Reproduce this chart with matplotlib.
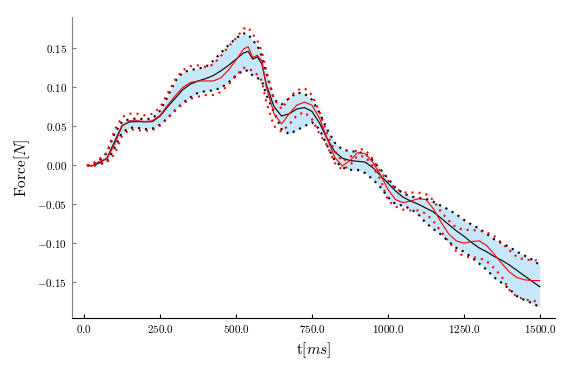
import numpy as np
import matplotlib
matplotlib.use("Agg")
import matplotlib.pyplot as plt

plt.rcParams['mathtext.fontset'] = 'cm'
plt.rcParams['font.family'] = 'DejaVu Serif'

# time axis [ms]
t = [10, 25, 50, 75, 100, 125, 150, 175, 200, 225, 250, 275, 300, 325, 350, 375,
     400, 425, 450, 475, 500, 525, 540, 555, 570, 585, 600, 625, 650, 675, 700,
     725, 750, 775, 800, 825, 850, 875, 900, 925, 950, 975, 1000, 1025, 1050,
     1075, 1100, 1125, 1150, 1175, 1200, 1225, 1250, 1275, 1300, 1325, 1350,
     1375, 1400, 1425, 1450, 1475, 1500]

# black: mean with upper / lower bound
black_mid = [0.000, -0.001, 0.003, 0.009, 0.030, 0.051, 0.0555, 0.056, 0.0555, 0.056,
             0.063, 0.075, 0.086, 0.097, 0.104, 0.108, 0.111, 0.115, 0.121, 0.128,
             0.136, 0.144, 0.146, 0.136, 0.139, 0.130, 0.103, 0.075, 0.063, 0.066,
             0.072, 0.074, 0.069, 0.054, 0.034, 0.017, 0.009, 0.006, 0.005, 0.004,
             -0.003, -0.013, -0.023, -0.033, -0.041, -0.046, -0.050, -0.055, -0.060,
             -0.068, -0.076, -0.084, -0.091, -0.099, -0.106, -0.111, -0.117, -0.122,
             -0.128, -0.135, -0.142, -0.149, -0.156]
black_up = [0.000, 0.000, 0.006, 0.016, 0.041, 0.056, 0.059, 0.060, 0.059, 0.060,
            0.070, 0.088, 0.108, 0.119, 0.122, 0.124, 0.126, 0.134, 0.144, 0.154,
            0.163, 0.169, 0.168, 0.160, 0.154, 0.140, 0.118, 0.084, 0.078, 0.086,
            0.093, 0.092, 0.084, 0.067, 0.046, 0.029, 0.020, 0.018, 0.017, 0.015,
            0.006, -0.005, -0.017, -0.029, -0.036, -0.040, -0.042, -0.043, -0.047,
            -0.052, -0.057, -0.063, -0.070, -0.076, -0.081, -0.088, -0.095, -0.100,
            -0.105, -0.111, -0.116, -0.121, -0.128]
black_low = [0.000, -0.001, 0.001, 0.004, 0.022, 0.042, 0.048, 0.048, 0.046, 0.047,
             0.052, 0.060, 0.071, 0.080, 0.087, 0.093, 0.095, 0.096, 0.099, 0.106,
             0.115, 0.122, 0.121, 0.115, 0.112, 0.108, 0.090, 0.068, 0.046, 0.040,
             0.045, 0.050, 0.055, 0.046, 0.025, 0.006, -0.003, -0.006, -0.006, -0.010,
             -0.018, -0.028, -0.041, -0.050, -0.052, -0.056, -0.063, -0.074, -0.082,
             -0.089, -0.098, -0.106, -0.111, -0.118, -0.126, -0.134, -0.144, -0.151,
             -0.159, -0.168, -0.173, -0.177, -0.182]

# red: mean with upper / lower bound
red_mid = [0.000, -0.001, 0.005, 0.008, 0.027, 0.050, 0.057, 0.057, 0.056, 0.057,
           0.064, 0.077, 0.089, 0.100, 0.106, 0.108, 0.108, 0.108, 0.112, 0.122,
           0.135, 0.149, 0.152, 0.138, 0.141, 0.134, 0.100, 0.066, 0.053, 0.066,
           0.077, 0.081, 0.077, 0.060, 0.034, 0.010, -0.001, 0.006, 0.016, 0.015,
           0.004, -0.012, -0.031, -0.044, -0.048, -0.046, -0.043, -0.044, -0.056,
           -0.073, -0.088, -0.097, -0.100, -0.098, -0.097, -0.103, -0.114, -0.126,
           -0.137, -0.144, -0.147, -0.148, -0.148]
red_up = [0.000, 0.001, 0.008, 0.016, 0.045, 0.062, 0.066, 0.066, 0.064, 0.066,
          0.074, 0.092, 0.110, 0.122, 0.127, 0.128, 0.126, 0.129, 0.140, 0.152,
          0.163, 0.175, 0.177, 0.168, 0.160, 0.146, 0.120, 0.085, 0.072, 0.086,
          0.096, 0.099, 0.090, 0.068, 0.040, 0.018, 0.005, 0.010, 0.021, 0.020,
          0.008, -0.008, -0.020, -0.030, -0.035, -0.035, -0.035, -0.037, -0.045,
          -0.060, -0.071, -0.080, -0.083, -0.083, -0.084, -0.086, -0.091, -0.100,
          -0.109, -0.118, -0.121, -0.122, -0.122]
red_low = [0.000, -0.002, 0.002, 0.004, 0.014, 0.038, 0.046, 0.045, 0.044, 0.045,
           0.051, 0.061, 0.070, 0.079, 0.085, 0.088, 0.090, 0.090, 0.094, 0.103,
           0.115, 0.125, 0.124, 0.121, 0.116, 0.108, 0.080, 0.050, 0.043, 0.052,
           0.064, 0.068, 0.059, 0.040, 0.025, 0.003, -0.006, 0.000, 0.012, 0.011,
           -0.001, -0.018, -0.045, -0.053, -0.057, -0.058, -0.058, -0.062, -0.072,
           -0.085, -0.098, -0.110, -0.117, -0.118, -0.119, -0.123, -0.132, -0.143,
           -0.160, -0.169, -0.172, -0.174, -0.175]

xticks = [0, 250, 500, 750, 1000, 1250, 1500]
yticks = [-0.15, -0.10, -0.05, 0.00, 0.05, 0.10, 0.15]

fig = plt.figure(figsize=(5.68, 3.67), dpi=100)
ax = fig.add_axes([0.1268, 0.1335, 0.8502, 0.82])

dot = (0, (1, 2.4))
ax.fill_between(t, black_low, black_up, color='#c6e6fa', linewidth=0)
ax.plot(t, black_up, color='black', lw=1.5, linestyle=dot)
ax.plot(t, black_low, color='black', lw=1.5, linestyle=dot)
ax.plot(t, black_mid, color='black', lw=0.8)
ax.plot(t, red_up, color='red', lw=1.5, linestyle=dot)
ax.plot(t, red_low, color='red', lw=1.5, linestyle=dot)
ax.plot(t, red_mid, color='red', lw=0.8)

ax.set_xlim(-40, 1550)
ax.set_ylim(-0.196, 0.19)
ax.set_xticks(xticks)
ax.set_xticklabels(['$%.1f$' % v for v in xticks])
ax.set_yticks(yticks)
ax.set_yticklabels(['$%.2f$' % v for v in yticks])
ax.tick_params(direction='in', length=3, labelsize=8, colors='black')
ax.tick_params(axis='y', color='#808080')
for s in ['top', 'right']:
    ax.spines[s].set_visible(False)
ax.spines['left'].set_color('#808080')
ax.set_xlabel(r'$\mathrm{t}[ms]$', fontsize=11)
ax.set_ylabel(r'$\mathrm{Force}[N]$', fontsize=11)

fig.savefig('out.png', dpi=100)
